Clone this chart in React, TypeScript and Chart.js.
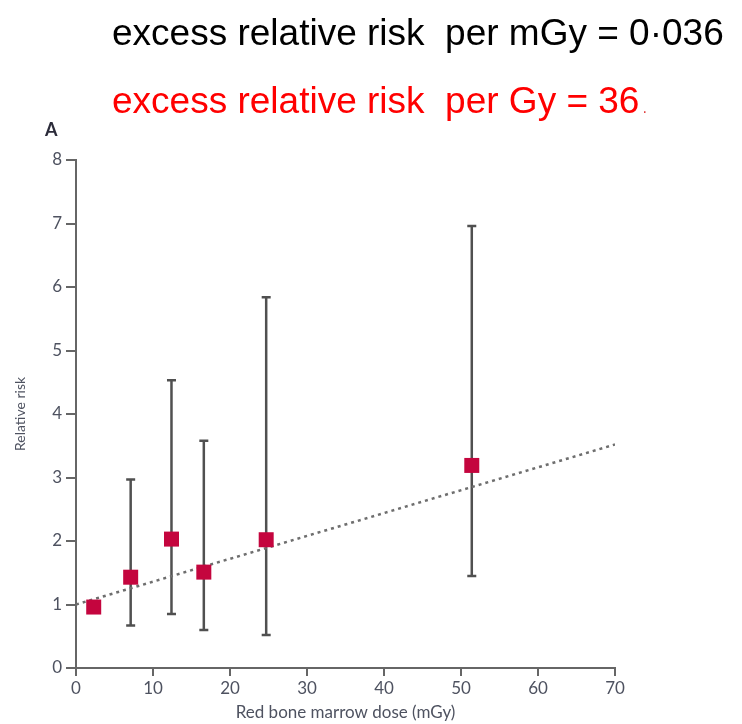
import React, { useEffect, useRef } from "react";
import { Chart, registerables } from "chart.js";

Chart.register(...registerables);

const titleLine1 = "excess relative risk  per mGy = 0·036";
const titleLine2 = "excess relative risk  per Gy = 36";
const panelLabel = "A";
const xAxisTitle = "Red bone marrow dose (mGy)";
const yAxisTitle = "Relative risk";

const doses = [2.3, 7.1, 12.4, 16.6, 24.7, 51.4];
const relativeRisk = [0.96, 1.43, 2.03, 1.51, 2.02, 3.19];
const ciLower = [null, 0.67, 0.85, 0.6, 0.52, 1.45];
const ciUpper = [null, 2.97, 4.53, 3.58, 5.84, 6.96];

const trendX = [0, 70];
const trendY = [1, 3.52];

const xTicks = [0, 10, 20, 30, 40, 50, 60, 70];
const yTicks = [0, 1, 2, 3, 4, 5, 6, 7, 8];

const errorBarPlugin = {
  id: "errorBars",
  beforeDatasetsDraw(chart: any) {
    const { ctx, scales } = chart;
    const xs = scales.x;
    const ys = scales.y;
    ctx.save();
    ctx.strokeStyle = "#505050";
    ctx.lineWidth = 2.5;
    const cap = 4.5;
    doses.forEach((d, i) => {
      const lo = ciLower[i];
      const hi = ciUpper[i];
      if (lo == null || hi == null) return;
      const px = xs.getPixelForValue(d);
      const pLo = ys.getPixelForValue(lo);
      const pHi = ys.getPixelForValue(hi);
      ctx.beginPath();
      ctx.moveTo(px, pLo);
      ctx.lineTo(px, pHi);
      ctx.moveTo(px - cap, pLo);
      ctx.lineTo(px + cap, pLo);
      ctx.moveTo(px - cap, pHi);
      ctx.lineTo(px + cap, pHi);
      ctx.stroke();
    });
    ctx.restore();
  },
};

const textPlugin = {
  id: "headerText",
  afterDraw(chart: any) {
    const { ctx } = chart;
    ctx.save();
    ctx.textBaseline = "alphabetic";
    ctx.textAlign = "left";
    ctx.font = '37px "Liberation Sans", Arial, sans-serif';
    ctx.fillStyle = "#000000";
    ctx.fillText(titleLine1, 112, 45);
    ctx.fillStyle = "#ff0000";
    ctx.fillText(titleLine2, 112, 113);
    const w = ctx.measureText(titleLine2).width;
    ctx.font = '16px "Liberation Sans", Arial, sans-serif';
    ctx.fillStyle = "#e04040";
    ctx.fillText(".", 112 + w + 3, 113);
    ctx.font = 'bold 18px Lato, "Open Sans", sans-serif';
    ctx.fillStyle = "#2b2b3a";
    ctx.fillText(panelLabel, 45, 136);
    ctx.restore();
  },
};

export default function App() {
  const ref = useRef<HTMLCanvasElement | null>(null);

  useEffect(() => {
    if (!ref.current) return;
    const tickFont = { family: "Lato, 'Open Sans', sans-serif", size: 17 };
    const chart = new Chart(ref.current, {
      type: "scatter",
      data: {
        datasets: [
          {
            type: "scatter",
            label: "Relative risk",
            data: doses.map((d, i) => ({ x: d, y: relativeRisk[i] })),
            backgroundColor: "#c4053e",
            borderWidth: 0,
            pointStyle: "rect",
            pointRadius: 10.6,
            order: 0,
          },
          {
            type: "line",
            label: "Trend",
            data: trendX.map((x, i) => ({ x, y: trendY[i] })),
            borderColor: "#6e6e6e",
            borderWidth: 2.5,
            borderDash: [3, 4],
            pointRadius: 0,
            fill: false,
            order: 1,
          } as any,
        ],
      },
      options: {
        responsive: false,
        animation: false,
        layout: { padding: { top: 160, right: 127, bottom: 0, left: 0 } },
        plugins: {
          legend: { display: false },
          tooltip: { enabled: false },
          title: { display: false },
        },
        scales: {
          x: {
            type: "linear",
            min: 0,
            max: 70,
            afterBuildTicks(scale: any) {
              scale.ticks = xTicks.map((v) => ({ value: v }));
            },
            afterFit(scale: any) {
              scale.height = 56;
            },
            border: { display: true, color: "#666666", width: 2 },
            grid: {
              drawOnChartArea: false,
              drawTicks: true,
              tickLength: 8,
              tickColor: "#666666",
              lineWidth: 2,
            },
            ticks: {
              font: tickFont,
              color: "#4e5260",
              padding: 2,
              maxRotation: 0,
            },
            title: {
              display: true,
              text: xAxisTitle,
              font: { family: "Lato, 'Open Sans', sans-serif", size: 17 },
              color: "#4e5260",
              padding: { top: 0, bottom: 1 },
            },
          },
          y: {
            type: "linear",
            min: 0,
            max: 8,
            afterBuildTicks(scale: any) {
              scale.ticks = yTicks.map((v) => ({ value: v }));
            },
            afterFit(scale: any) {
              scale.width = 76;
            },
            border: { display: true, color: "#666666", width: 2 },
            grid: {
              drawOnChartArea: false,
              drawTicks: true,
              tickLength: 10,
              tickColor: "#666666",
              lineWidth: 2,
            },
            ticks: {
              font: tickFont,
              color: "#4e5260",
              padding: 4,
            },
            title: {
              display: true,
              text: yAxisTitle,
              font: { family: "Lato, 'Open Sans', sans-serif", size: 14 },
              color: "#4e5260",
              padding: { top: 12, bottom: 0 },
            },
          },
        },
      },
      plugins: [errorBarPlugin, textPlugin],
    });
    return () => chart.destroy();
  }, []);

  return (
    <div style={{ position: "fixed", left: 0, top: 0, width: 742, height: 724, background: "#ffffff" }}>
      <canvas ref={ref} width={742} height={724} style={{ display: "block" }} />
    </div>
  );
}
